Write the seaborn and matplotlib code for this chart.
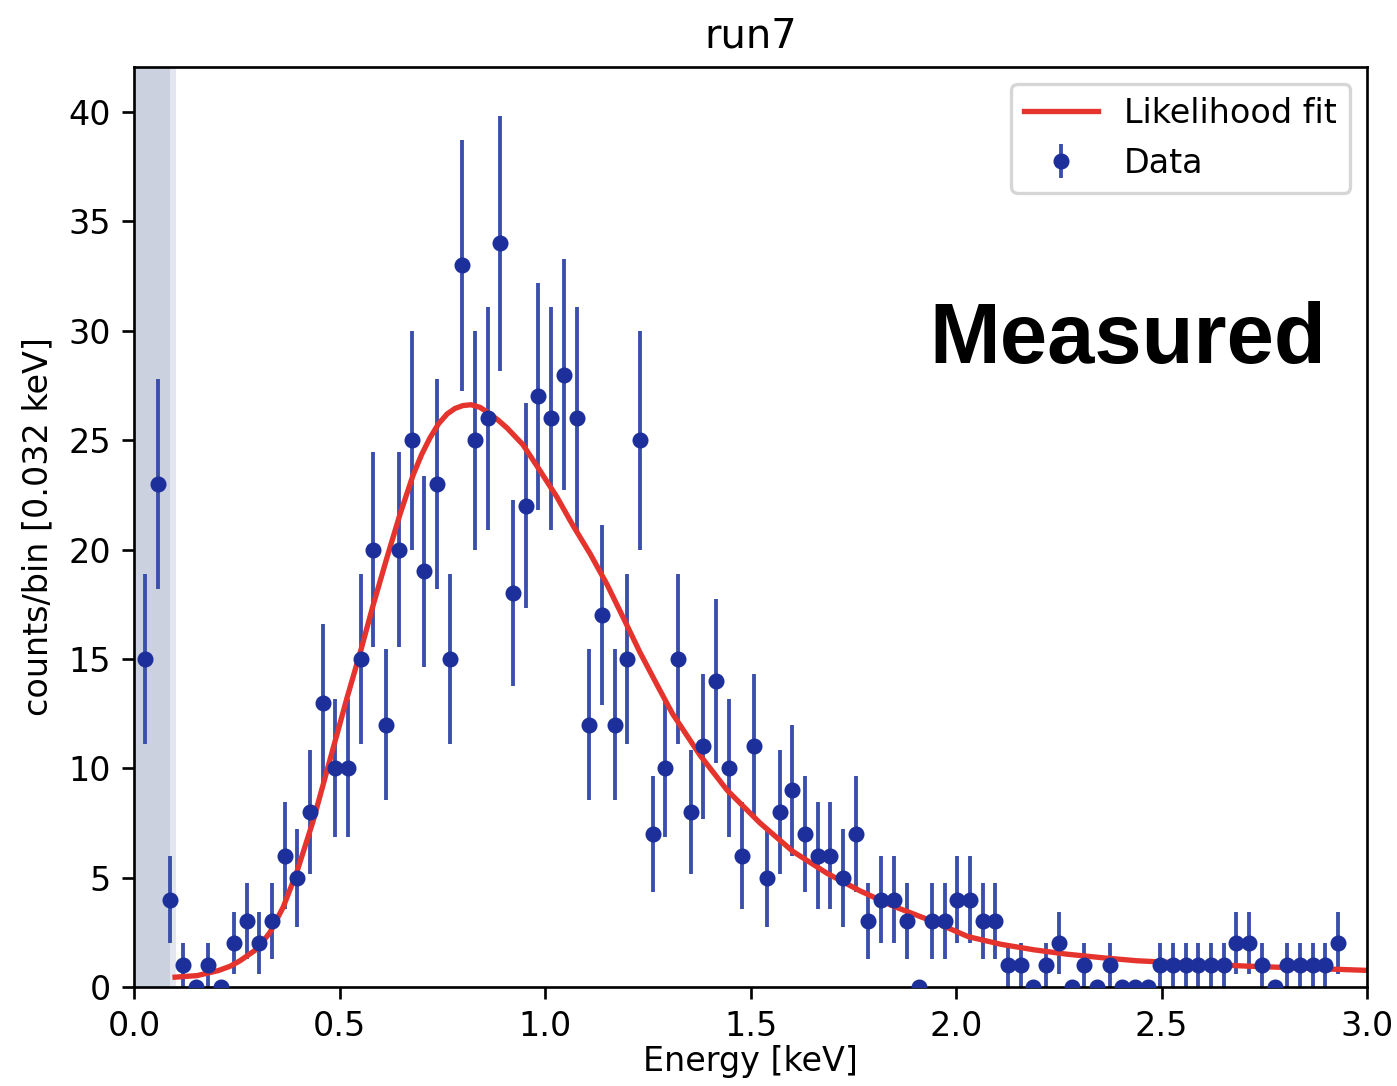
import numpy as np
import pandas as pd
import matplotlib
matplotlib.use("Agg")
import matplotlib.pyplot as plt
import seaborn as sns

# Counts per energy bin for run7
counts = [15, 23, 4, 1, 0, 1, 0, 2, 3, 2, 3, 6, 5, 8, 13, 10, 10, 15, 20, 12,
          20, 25, 19, 23, 15, 33, 25, 26, 34, 18, 22, 27, 26, 28, 26, 12, 17, 12,
          15, 25, 7, 10, 15, 8, 11, 14, 10, 6, 11, 5, 8, 9, 7, 6, 6, 5, 7, 3, 4,
          4, 3, 0, 3, 3, 4, 4, 3, 3, 1, 1, 0, 1, 2, 0, 1, 0, 1, 0, 0, 0, 1, 1, 1,
          1, 1, 1, 2, 2, 1, 0, 1, 1, 1, 1, 2]
first_bin_center = 0.0268   # keV
bin_step = 0.03088          # keV

# Likelihood fit curve, sampled in energy
fit_energy = [0.100, 0.153, 0.205, 0.234, 0.258, 0.300, 0.331, 0.363, 0.397,
              0.436, 0.477, 0.518, 0.552, 0.581, 0.615, 0.647, 0.679, 0.700,
              0.720, 0.741, 0.762, 0.781, 0.800, 0.820, 0.842, 0.866, 0.887,
              0.908, 0.946, 0.988, 1.029, 1.068, 1.110, 1.151, 1.190, 1.231,
              1.273, 1.310, 1.377, 1.443, 1.523, 1.603, 1.686, 1.766, 1.847,
              1.950, 2.030, 2.110, 2.190, 2.270, 2.360, 2.440, 2.700, 3.000]
fit_counts = [0.45, 0.52, 0.75, 0.95, 1.20, 1.75, 2.50, 3.65, 5.30, 7.60, 10.4,
              13.2, 15.4, 17.4, 19.6, 21.6, 23.4, 24.35, 25.1, 25.75, 26.2,
              26.45, 26.58, 26.62, 26.5, 26.2, 25.9, 25.55, 24.8, 23.6, 22.4,
              21.1, 19.8, 18.4, 16.9, 15.3, 13.8, 12.5, 10.6, 9.0, 7.5, 6.2, 5.2,
              4.4, 3.7, 2.95, 2.3, 1.95, 1.7, 1.5, 1.33, 1.2, 0.96, 0.76]

# Energy range excluded from the fit
excluded_low, excluded_edge, excluded_high = 0.0, 0.0875, 0.102

energy = first_bin_center + bin_step * np.arange(len(counts))
data = pd.DataFrame({"energy": energy, "counts": counts})
data["err"] = np.sqrt(data["counts"])
fit = pd.DataFrame({"energy": fit_energy, "counts": fit_counts})

W, H, DPI = 1397, 1086, 240
fig = plt.figure(figsize=(W / DPI, H / DPI), dpi=DPI)
ax = fig.add_axes([134 / W, 99 / H, 1233 / W, 920 / H])

ax.axvspan(excluded_low, excluded_high, color="#e3e6ef", lw=0, zorder=0)
ax.axvspan(excluded_low, excluded_edge, color="#cbd1df", lw=0, zorder=0)

sns.lineplot(data=fit, x="energy", y="counts", ax=ax, color="#e5342e",
             lw=1.6, label="Likelihood fit", zorder=2, sort=False)

eb = ax.errorbar(data["energy"], data["counts"], yerr=data["err"], fmt="o",
                 color="#1c2f9b", ecolor="#3a4eab", elinewidth=1.15, ms=3.8,
                 label="Data", zorder=1)
eb[0].set_zorder(3)

ax.set_xlim(0, 3.0)
ax.set_ylim(0, 42.06)
ax.set_xticks(np.arange(0, 3.01, 0.5))
ax.set_yticks(np.arange(0, 41, 5))
ax.set_xlabel("Energy [keV]", labelpad=0.5)
ax.set_ylabel("counts/bin [0.032 keV]")
ax.set_title("run7")

ax.legend(loc="upper right", handlelength=2.2)

ax.text(0.806, 0.678, "Measured", transform=ax.transAxes, ha="center",
        va="baseline", fontsize=25.5, fontweight="bold",
        family="Liberation Sans", color="black")

fig.savefig("out.png", dpi=DPI)
